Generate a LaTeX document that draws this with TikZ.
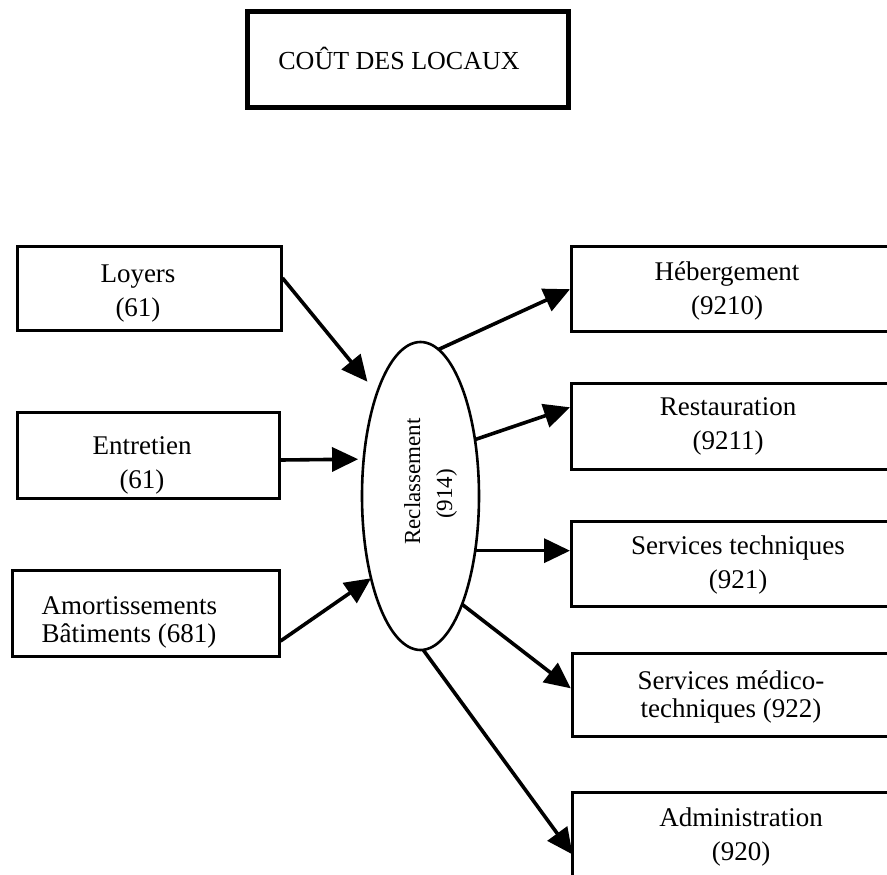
\documentclass[tikz,border=0pt]{standalone}
\usepackage{fontspec}
\setmainfont{Liberation Serif}
\usetikzlibrary{arrows.meta,shapes.geometric}
\begin{document}
\begin{tikzpicture}[x=1pt,y=-1pt,
  frame/.style={draw, line width=3pt, inner sep=0pt},
  headframe/.style={draw, line width=5pt, inner sep=0pt},
  lbl/.style={inner sep=0pt, align=center, font=\fontsize{27}{34}\selectfont},
  tightlbl/.style={lbl, font=\fontsize{27}{28}\selectfont},
  hub/.style={draw, ellipse, line width=2.6pt, inner sep=0pt, outer sep=0pt},
  hublbl/.style={inner sep=0pt, anchor=base, rotate=90, font=\fontsize{23}{28}\selectfont},
  flow/.style={line width=3.6pt, -{Triangle[length=26pt,width=24pt]}}]
\useasboundingbox (0,0) rectangle (887,875);
\clip (0,0) rectangle (887,875);

% heading
\node[headframe, minimum width=321pt, minimum height=96pt] (head) at (407.5,60) {};
\node[inner sep=0pt, anchor=base, font=\fontsize{26}{30}\selectfont] (headtxt) at (399,70) {COÛT DES LOCAUX};

% cost sources
\node[frame, minimum width=263.5pt, minimum height=83.5pt] (loy) at (149.25,288.25) {};
\node[frame, minimum width=261.5pt, minimum height=85.6pt] (ent) at (148.25,455.5) {};
\node[frame, minimum width=266.7pt, minimum height=86.7pt] (amo) at (145.65,613.35) {};
\node[lbl] (loytxt) at (138,293.1) {Loyers\\(61)};
\node[lbl] (enttxt) at (142,465) {Entretien\\(61)};
\node[tightlbl, align=left, anchor=west] (amotxt) at (41.5,622.5) {Amortissements\\Bâtiments (681)};

% reclassification hub
\node[hub, minimum width=117pt, minimum height=308pt] (recl) at (420.5,496) {};
\node[hublbl] (recltxt) at (420,481.5) {Reclassement};
\node[hublbl] (reclnum) at (452,494) {(914)};

% destinations (run past the right edge)
\node[frame, minimum width=319.5pt, minimum height=85pt] (heb) at (731.25,289.2) {};
\node[frame, minimum width=319.5pt, minimum height=86pt] (rst) at (731.25,426.3) {};
\node[frame, minimum width=319.5pt, minimum height=85.7pt] (svt) at (731.25,563.85) {};
\node[frame, minimum width=318.7pt, minimum height=82.3pt] (med) at (731.65,694.85) {};
\node[frame, minimum width=318.7pt, minimum height=84.3pt] (adm) at (731.65,834.85) {};
\node[lbl] (hebtxt) at (727,291.4) {Hébergement\\(9210)};
\node[lbl] (rsttxt) at (728,426.4) {Restauration\\(9211)};
\node[lbl] (svttxt) at (738,564.7) {Services techniques\\(921)};
\node[tightlbl] (medtxt) at (731,696.8) {Services médico-\\techniques (922)};
\node[lbl] (admtxt) at (741,836.8) {Administration\\(920)};

% flows into the hub
\draw[flow, shorten >=15pt] ([yshift=10.25pt]loy.east) -- (recl.113.45);
\draw[flow, shorten >=5.6pt] ([yshift=-4.5pt]ent.east) -- (recl.147.67);
\draw[flow] ([yshift=-27.7pt]amo.east) -- (recl.239.2);

% flows out of the hub
\draw[flow] (recl.83.9) -- (heb.west);
\draw[flow] (recl.46.25) -- ([yshift=19pt]rst.west);
\draw[flow] (recl.315.3) -- (recl.315.3 -| svt.west);
\draw[flow] (recl.291.44) -- ([yshift=6.5pt]med.west);
\draw[flow, shorten >=-3pt] (recl.271.67) -- ([yshift=-17.2pt]adm.west);
\end{tikzpicture}
\end{document}
